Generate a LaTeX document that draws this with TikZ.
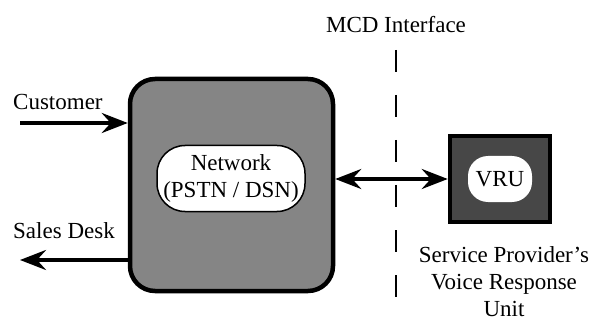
\documentclass[tikz,border=0pt]{standalone}
\usepackage{fontspec}
\setmainfont{Liberation Serif}
\usetikzlibrary{arrows.meta}
\begin{document}
\begin{tikzpicture}[x=1pt,y=-1pt,
  lbl/.style={font=\fontsize{23}{27}\selectfont, inner sep=0pt},
  conn/.style={line width=3.8pt, -{Stealth[length=26pt,width=20pt,inset=9pt]}},
  dconn/.style={line width=3.8pt, {Stealth[length=26pt,width=20pt,inset=9pt]}-{Stealth[length=26pt,width=20pt,inset=9pt]}},
  outerbox/.style={draw, line width=4.5pt, inner sep=0pt}
]
\useasboundingbox (0,0) rectangle (593,320);
% network box
\node[outerbox, rounded corners=25pt, fill=black!48, minimum width=203pt, minimum height=212pt] (net) at (231.5,185) {};
\node[draw, line width=1.5pt, rounded corners=28pt, fill=white, minimum width=148pt, minimum height=66pt, align=center, lbl] (netin) at (231,178.5) {Network\\(PSTN / DSN)};
% VRU box
\node[outerbox, fill=black!72, minimum width=100pt, minimum height=86pt] (vru) at (500,179) {};
\node[fill=white, rounded corners=20pt, minimum width=64pt, minimum height=46pt, lbl] (vruin) at (500,179) {VRU};
% labels
\node[lbl, anchor=base west] (cust) at (13,110) {Customer};
\node[lbl, anchor=base west] (sales) at (13,238) {Sales Desk};
\node[lbl, anchor=base] (mcd) at (396,33) {MCD Interface};
\node[lbl, anchor=north, align=center] (sp) at (504,246) {Service Provider's\\Voice Response\\Unit};
% connectors
\coordinate (custstart) at (20,123);
\coordinate (salesend) at (20,260);
\draw[conn] (custstart) -- (net.west |- custstart);
\draw[conn] (net.west |- salesend) -- (salesend);
\draw[dconn] (net.east |- vru.west) -- (vru.west);
% MCD dashed line
\coordinate (mcdtop) at (396,50);
\coordinate (mcdbot) at (396,320);
\draw[line width=2pt, dash pattern=on 22pt off 23pt] (mcdtop) -- (mcdbot);
\end{tikzpicture}
\end{document}
